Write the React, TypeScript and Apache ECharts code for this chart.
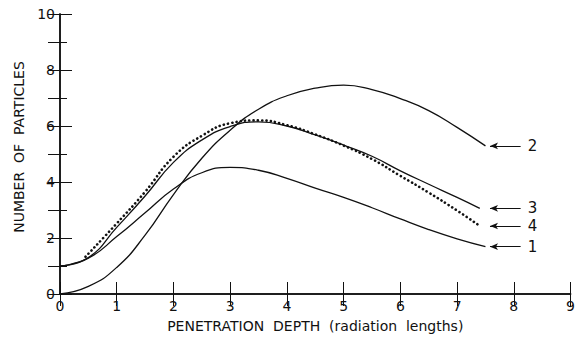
import React, { useEffect, useRef } from "react";
import * as echarts from "echarts";

const depth = [0, 0.5, 1, 1.5, 2, 2.5, 3, 3.5, 4, 4.5, 5, 5.5, 6, 6.5, 7, 7.5];
const curve1 = [1, 1.28, 2.05, 2.9, 3.75, 4.33, 4.52, 4.42, 4.13, 3.78, 3.45, 3.08, 2.68, 2.3, 1.97, 1.69];
const curve2 = [0, 0.27, 0.95, 2.1, 3.55, 4.85, 5.85, 6.6, 7.08, 7.35, 7.46, 7.3, 6.98, 6.55, 5.95, 5.29];
const depth3 = [0, 0.5, 1, 1.5, 2, 2.5, 3, 3.5, 4, 4.5, 5, 5.5, 6, 6.5, 7, 7.4];
const curve3 = [1, 1.3, 2.38, 3.5, 4.7, 5.5, 5.98, 6.15, 6.0, 5.68, 5.32, 4.92, 4.4, 3.92, 3.45, 3.06];
const depth4 = [0.45, 1, 1.5, 2, 2.5, 3, 3.5, 4, 4.5, 5, 5.5, 6, 6.5, 7, 7.4];
const curve4 = [1.33, 2.52, 3.65, 4.9, 5.65, 6.1, 6.2, 6.03, 5.7, 5.3, 4.82, 4.22, 3.62, 2.98, 2.43];
const curveLabels = ["1", "2", "3", "4"];
const arrowStart = 7.58;
const arrowEnd = 8.12;

const xTitle = "PENETRATION  DEPTH  (radiation  lengths)";
const yTitle = "NUMBER  OF  PARTICLES";

const FONT = "DejaVu Sans";
const INK = "#111";

function pairs(xs: number[], ys: number[]) {
  return xs.map((x, i) => [x, ys[i]]);
}

export default function App() {
  const ref = useRef<HTMLDivElement>(null);
  useEffect(() => {
    if (!ref.current) return;
    const chart = echarts.init(ref.current, undefined, { renderer: "svg" });
    const mk = (xs: number[], ys: number[], label: string, dotted: boolean) => {
      const yEnd = ys[ys.length - 1];
      return {
        type: "line",
        data: pairs(xs, ys),
        smooth: 0.5,
        showSymbol: false,
        symbol: "none",
        silent: true,
        lineStyle: dotted
          ? { color: INK, width: 2.6, type: [0.1, 4.2], cap: "round" }
          : { color: INK, width: 1.3 },
        markLine: {
          silent: true,
          symbol: ["arrow", "none"],
          symbolSize: [5, 8],
          lineStyle: { color: INK, width: 1, type: "solid" },
          label: {
            show: true,
            position: "end",
            formatter: label,
            color: INK,
            fontFamily: FONT,
            fontSize: 15,
            lineHeight: 15,
            distance: 7,
          },
          data: [[{ coord: [arrowStart, yEnd] }, { coord: [arrowEnd, yEnd] }]],
        },
      };
    };
    chart.setOption({
      animation: false,
      backgroundColor: "#fff",
      grid: { left: 60, right: 5, top: 14, bottom: 47 },
      xAxis: [
        {
          type: "value",
          min: 0,
          max: 9,
          interval: 1,
          position: "bottom",
          name: xTitle,
          nameLocation: "middle",
          nameGap: 25,
          nameTextStyle: { fontFamily: FONT, fontSize: 14, color: INK },
          axisLine: { show: true, lineStyle: { color: INK, width: 1.5 } },
          axisTick: { show: true, inside: true, length: 12, lineStyle: { color: INK, width: 1 } },
          axisLabel: { color: INK, fontFamily: FONT, fontSize: 14, margin: 5 },
          splitLine: { show: false },
        },
        {
          type: "value",
          min: 0,
          max: 9,
          interval: 1,
          position: "top",
          axisLine: { show: true, lineStyle: { color: INK, width: 1.5 } },
          axisTick: { show: true, inside: true, length: 12, lineStyle: { color: INK, width: 1 } },
          axisLabel: { show: false },
          splitLine: { show: false },
        },
      ],
      yAxis: [
        {
          type: "value",
          min: 0,
          max: 10,
          interval: 2,
          position: "left",
          name: yTitle,
          nameLocation: "middle",
          nameRotate: 90,
          nameGap: 32,
          nameTextStyle: { fontFamily: FONT, fontSize: 14, color: INK, padding: [0, 0, 0, 14] },
          axisLine: { show: true, lineStyle: { color: INK, width: 1.5 } },
          axisTick: { show: true, inside: true, length: 12, lineStyle: { color: INK, width: 1 } },
          minorTick: { show: true, splitNumber: 2, length: 7, lineStyle: { color: INK, width: 1 } },
          axisLabel: { color: INK, fontFamily: FONT, fontSize: 14, margin: 5 },
          splitLine: { show: false },
        },
        {
          type: "value",
          min: 0,
          max: 10,
          interval: 1,
          position: "right",
          axisLine: { show: true, lineStyle: { color: INK, width: 1.5 } },
          axisTick: { show: true, inside: true, length: 12, lineStyle: { color: INK, width: 1 } },
          axisLabel: { show: false },
          splitLine: { show: false },
        },
      ],
      series: [
        mk(depth, curve1, curveLabels[0], false),
        mk(depth, curve2, curveLabels[1], false),
        mk(depth3, curve3, curveLabels[2], false),
        mk(depth4, curve4, curveLabels[3], true),
      ],
    });
    return () => chart.dispose();
  }, []);
  return (
    <div
      ref={ref}
      style={{ position: "absolute", left: 0, top: 0, width: 578, height: 341 }}
    />
  );
}
